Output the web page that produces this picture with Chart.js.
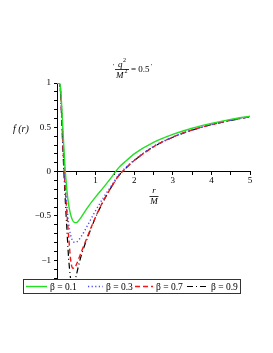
<!DOCTYPE html>
<html>
<head>
<meta charset="utf-8">
<script src="https://cdn.jsdelivr.net/npm/chart.js@4.4.1/dist/chart.umd.min.js"></script>
<style>
  html, body { margin: 0; padding: 0; background: #fff; }
  #wrap { width: 273px; height: 353px; }
</style>
</head>
<body>
<div id="wrap"><canvas id="c" width="273" height="353"></canvas></div>
<script>
// r/M sample points and f(r)
const rValues = [0, 0.04, 0.08, 0.1, 0.12, 0.15, 0.2, 0.25, 0.3, 0.35, 0.4, 0.45, 0.5, 0.6, 0.7, 0.8, 1.0, 1.2, 1.4, 1.6, 1.8, 2.0, 2.5, 3.0, 3.5, 4.0, 4.5, 5.0];

const beta01 = [1, 1, 0.98, 0.9, 0.75, 0.5, 0.1, -0.18, -0.37, -0.48, -0.545, -0.572, -0.575, -0.53, -0.465, -0.4, -0.285, -0.18, -0.07, 0.045, 0.125, 0.2, 0.33, 0.42, 0.49, 0.545, 0.59, 0.625];
const beta03 = [1, 1, 0.97, 0.87, 0.7, 0.42, -0.02, -0.36, -0.58, -0.71, -0.775, -0.797, -0.795, -0.75, -0.68, -0.6, -0.44, -0.295, -0.165, -0.035, 0.055, 0.13, 0.285, 0.39, 0.47, 0.53, 0.58, 0.62];
const beta07 = [1, 1, 0.96, 0.85, 0.66, 0.35, -0.1, -0.42, -0.72, -0.98, -1.085, -1.09, -1.05, -0.94, -0.83, -0.72, -0.51, -0.33, -0.18, -0.045, 0.045, 0.125, 0.28, 0.39, 0.47, 0.53, 0.58, 0.62];
const beta09 = [1, 1, 0.95, 0.82, 0.6, 0.28, -0.2, -0.6, -0.97, -1.2, -1.3, -1.27, -1.17, -0.99, -0.85, -0.735, -0.515, -0.335, -0.18, -0.045, 0.045, 0.125, 0.28, 0.388, 0.468, 0.53, 0.578, 0.618];

const seriesLabels = ["β = 0.1", "β = 0.3", "β = 0.7", "β = 0.9"];
const xTickLabels = ["1", "2", "3", "4", "5"];
const yTickLabels = ["1", "0.5", "0", "−0.5", "−1"];

const serif = "'Liberation Serif', 'DejaVu Serif', serif";

function pts(ys) {
  return rValues.map((r, i) => ({ x: r, y: ys[i] }));
}

function line(label, ys, color, dash, width) {
  return {
    label,
    data: pts(ys),
    borderColor: color,
    borderDash: dash,
    borderWidth: width,
    pointRadius: 0,
    fill: false,
    cubicInterpolationMode: "monotone"
  };
}

// text labels, fractions and the boxed legend, Maple style
const decorations = {
  id: "decorations",
  afterDraw(chart) {
    const ctx = chart.ctx;
    ctx.save();
    ctx.fillStyle = "#000";
    ctx.strokeStyle = "#000";
    ctx.lineWidth = 0.8;
    ctx.textBaseline = "alphabetic";

    // title  'q^2/M^2 = 0.5'
    ctx.textAlign = "left";
    ctx.font = "7px " + serif;
    ctx.fillText("'", 113, 68);
    ctx.font = "italic 9px " + serif;
    ctx.fillText("q", 118, 67);
    ctx.fillText("M", 116, 78);
    ctx.font = "6px " + serif;
    ctx.fillText("2", 123, 62);
    ctx.fillText("2", 124.5, 73);
    ctx.beginPath();
    ctx.moveTo(115, 69.5);
    ctx.lineTo(129, 69.5);
    ctx.stroke();
    ctx.font = "9px " + serif;
    ctx.fillText("= 0.5", 131, 72);
    ctx.font = "7px " + serif;
    ctx.fillText("'", 151, 68);

    // y label f(r)
    ctx.font = "italic 10px " + serif;
    ctx.textAlign = "left";
    ctx.textBaseline = "middle";
    ctx.fillText("f (r)", 13, 129);

    // x label r/M
    ctx.textAlign = "center";
    ctx.font = "italic 9px " + serif;
    ctx.fillText("r", 154, 191);
    ctx.fillText("M", 154, 202);
    ctx.beginPath();
    ctx.moveTo(149.5, 196.5);
    ctx.lineTo(158.5, 196.5);
    ctx.stroke();

    // legend box
    ctx.strokeStyle = "#333";
    ctx.lineWidth = 1;
    ctx.strokeRect(23.5, 279.5, 217, 14);
    const itemX = [26, 88, 135, 187];
    const itemLen = [21, 15, 18, 21];
    const ly = 286.5;
    ctx.font = "9.5px " + serif;
    ctx.textAlign = "left";
    chart.data.datasets.forEach((ds, i) => {
      ctx.save();
      ctx.strokeStyle = ds.borderColor;
      ctx.lineWidth = ds.borderWidth;
      ctx.setLineDash(ds.borderDash);
      ctx.beginPath();
      ctx.moveTo(itemX[i], ly);
      ctx.lineTo(itemX[i] + itemLen[i], ly);
      ctx.stroke();
      ctx.restore();
      ctx.fillStyle = "#000";
      ctx.fillText(ds.label, itemX[i] + itemLen[i] + 3, ly + 0.5);
    });
    ctx.restore();
  }
};

new Chart(document.getElementById("c"), {
  type: "line",
  data: {
    datasets: [
      line(seriesLabels[0], beta01, "#22e022", [], 1.4),
      line(seriesLabels[1], beta03, "#4646ff", [1.2, 2.4], 1.4),
      line(seriesLabels[2], beta07, "#f01818", [5, 3], 1.4),
      line(seriesLabels[3], beta09, "#000000", [6, 3, 1, 3], 1.2)
    ]
  },
  options: {
    responsive: false,
    animation: false,
    events: [],
    layout: { padding: { top: 83, left: 0, right: 23, bottom: 75 } },
    plugins: {
      legend: { display: false },
      title: { display: false },
      tooltip: { enabled: false }
    },
    scales: {
      x: {
        type: "linear",
        position: { y: 0 },
        min: 0,
        max: 5,
        grid: { drawOnChartArea: false, drawTicks: true, tickLength: 3, color: "#000" },
        border: { display: true, color: "#000", width: 1 },
        ticks: {
          stepSize: 0.5,
          autoSkip: false,
          maxRotation: 0,
          padding: 1,
          color: "#000",
          font: { family: serif, size: 9 },
          callback: v => (Number.isInteger(v) && v > 0 ? xTickLabels[v - 1] : "")
        }
      },
      y: {
        type: "linear",
        position: "left",
        min: -1.2,
        max: 1,
        afterFit: s => { s.width = 57; },
        grid: { drawOnChartArea: false, drawTicks: true, tickLength: 3, color: "#000" },
        border: { display: true, color: "#000", width: 1 },
        ticks: {
          stepSize: 0.1,
          autoSkip: false,
          padding: 3,
          color: "#000",
          font: { family: serif, size: 9 },
          callback: v => {
            const k = Math.round(v * 2);
            if (Math.abs(v * 2 - k) > 1e-6) return "";
            const idx = 2 - k;
            return idx >= 0 && idx < yTickLabels.length ? yTickLabels[idx] : "";
          }
        }
      }
    }
  },
  plugins: [decorations]
});
</script>
</body>
</html>
